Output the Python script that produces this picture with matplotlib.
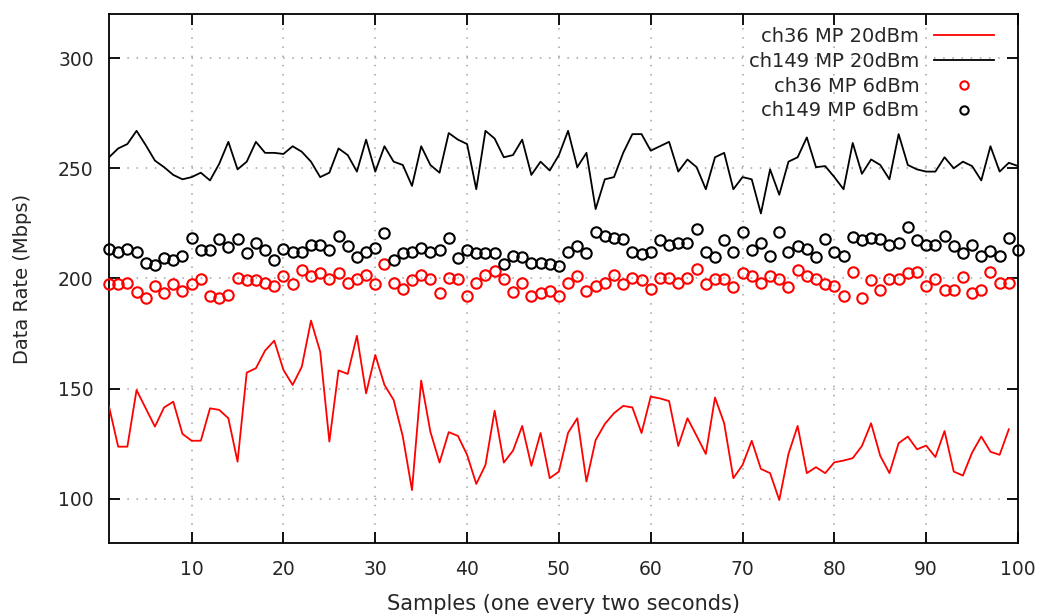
import matplotlib
matplotlib.use("Agg")
import matplotlib.pyplot as plt
import numpy as np

# ---- data ----
ch149_20 = [255, 259, 261, 267, 260.5, 253.5, 250.5, 247, 245, 246,
            248, 244.5, 252, 262, 249.5, 253, 262, 257, 257, 256.5,
            260, 257.5, 253, 246, 248, 259, 256, 248.5, 263, 248.5,
            260, 253, 251.5, 242, 260, 251.5, 248, 266, 263, 261,
            240.5, 267, 263.5, 255, 256, 263, 247, 253, 249, 256,
            267, 250.5, 257, 231.5, 245, 246, 257, 265.5, 265.5, 258,
            260, 262, 248.5, 254, 250.5, 240.5, 255, 257, 240.5, 246,
            245, 229.5, 249.5, 238, 253, 255, 264, 250.5, 251, 246,
            240.5, 261.5, 247.5, 254, 251.5, 245, 265.5, 251.5, 249.5, 248.5,
            248.5, 255, 250, 253, 251, 244.5, 260, 248.5, 252.5, 251]

ch36_20 = [141.9, 123.7, 123.7, 149.4, 141.1, 132.8, 141.5, 144.1, 129.5, 126.4,
           126.4, 141.1, 140.4, 136.6, 116.9, 157.3, 159.3, 167.3, 171.8, 158.5,
           151.7, 160, 180.9, 166.8, 126, 158.3, 156.7, 174, 147.9, 165.3,
           151.7, 144.9, 128.3, 104, 153.7, 130.5, 116.5, 130.3, 128.6, 120,
           106.8, 115.4, 140, 116.5, 121.9, 133.1, 115, 129.9, 109.4, 112.4,
           130, 136.6, 107.9, 126.7, 134, 138.9, 142.2, 141.5, 129.9, 146.4,
           145.6, 144.4, 124, 136.6, 128.6, 120.4, 146, 134.3, 109.4, 115.4,
           126.4, 113.6, 111.7, 99.5, 120.4, 133.1, 111.7, 114.4, 111.7, 116.6,
           117.4, 118.5, 124, 134.3, 119.5, 111.7, 125.3, 128.3, 122.5, 124.2,
           119, 130.8, 112.4, 110.6, 121, 128.3, 121.4, 120, 131.6]

ch36_6 = [197.5, 197.5, 198.1, 194, 191.3, 196.6, 193.6, 197.5, 194.3, 197.5,
          199.6, 192.1, 191.3, 192.4, 200.1, 199.3, 199.3, 197.8, 196.6, 201.3,
          197.5, 203.9, 201.3, 202.4, 199.6, 202.5, 197.8, 199.6, 201.6, 197.5,
          206.6, 198.1, 195.1, 199.3, 201.6, 199.6, 193.6, 200.1, 199.6, 192.1,
          197.8, 201.6, 203.6, 199.6, 194, 198.1, 192.1, 193.6, 194.5, 192.1,
          198.1, 201.1, 194.5, 196.6, 198.1, 201.6, 197.5, 200.1, 199.3, 195.1,
          200.1, 200.1, 198.1, 200.1, 204.2, 197.5, 199.6, 199.6, 196.3, 202.6,
          201.1, 198.1, 201.1, 199.6, 196.3, 203.9, 201.1, 199.6, 197.5, 196.6,
          192.1, 203.1, 191, 199.3, 194.8, 199.6, 199.6, 202.4, 203.1, 196.6,
          199.6, 194.8, 194.8, 200.5, 193.6, 194.8, 203.1, 198.1, 198.1]

ch149_6 = [213.2, 212.2, 213.2, 212.2, 206.9, 206.1, 209.2, 208.4, 210.2, 218.5,
           212.9, 212.9, 217.8, 214.4, 217.8, 211.4, 216, 212.9, 208.4, 213.2,
           212.2, 212.2, 215.2, 215.2, 212.9, 219.2, 214.7, 209.9, 212.2, 213.7,
           220.5, 208.4, 211.4, 212.2, 213.7, 212.2, 212.9, 218.5, 209.2, 212.9,
           211.4, 211.4, 211.4, 206.6, 210.2, 209.9, 206.9, 207.2, 206.6, 205.7,
           212.2, 214.7, 211.4, 221.2, 219.3, 218.5, 217.8, 212.2, 211.1, 212.2,
           217.5, 215.2, 216, 216, 222.3, 212.2, 209.9, 217.5, 212.2, 221.2,
           212.9, 216, 210.2, 221.2, 212.2, 214.7, 213.2, 209.6, 217.8, 212.2,
           210.4, 219, 217.5, 218.5, 217.8, 215.2, 216, 223.5, 217.5, 215.2,
           215.2, 219.3, 214.7, 211.4, 215.2, 210.2, 212.6, 210.2, 218.5, 212.9]

labels = ["ch36 MP 20dBm", "ch149 MP 20dBm", "ch36 MP 6dBm", "ch149 MP 6dBm"]
xticks = list(range(10, 101, 10))
yticks = [100, 150, 200, 250, 300]

# ---- figure ----
plt.rcParams['font.family'] = ['DejaVu Sans']
W, H = 1043, 616
fig = plt.figure(figsize=(W / 100, H / 100), dpi=100)
ax = fig.add_axes([109 / W, 1 - 543 / H, (1018 - 109) / W, (543 - 14) / H])

x20r = np.arange(1, len(ch36_20) + 1)
x20b = np.arange(1, len(ch149_20) + 1)
x6r = np.arange(1, len(ch36_6) + 1)
x6b = np.arange(1, len(ch149_6) + 1)

red = '#ff0000'
txt = '#262626'
ax.plot(x20r, ch36_20, color=red, lw=1.3, label=labels[0], zorder=3)
ax.plot(x20b, ch149_20, color='black', lw=1.3, label=labels[1], zorder=3)
ax.plot(x6r, ch36_6, ls='none', marker='o', ms=7.5, mfc='none', mec=red, mew=1.5,
        label=labels[2], clip_on=False, zorder=4)
ax.plot(x6b, ch149_6, ls='none', marker='o', ms=7.5, mfc='none', mec='black', mew=1.5,
        label=labels[3], clip_on=False, zorder=4)

ax.set_xlim(1, 100)
ax.set_ylim(80, 320)
ax.set_xticks(xticks)
ax.set_yticks(yticks)
ax.grid(True, color='#a0a0a0', linestyle=(0, (1, 5)), linewidth=1.1)
ax.tick_params(direction='in', length=8, width=1.3, top=True, right=True,
               labelsize=13.5, colors='black', labelcolor=txt)
ax.tick_params(axis='x', pad=12)
ax.tick_params(axis='y', pad=11)
for s in ax.spines.values():
    s.set_linewidth(1.3)
    s.set_color('black')

ax.set_xlabel("Samples (one every two seconds)", fontsize=15, color=txt, labelpad=11)
ax.set_ylabel("Data Rate (Mbps)", fontsize=14, color=txt, labelpad=19)

leg = ax.legend(loc='upper right', bbox_to_anchor=(994 / W, 1 - 27 / H),
                bbox_transform=fig.transFigure, frameon=False,
                markerfirst=False, fontsize=14, handlelength=3.1,
                handletextpad=0.75, labelspacing=0.3, borderaxespad=0.0,
                borderpad=0.0, markerscale=0.8)
for t in leg.get_texts():
    t.set_color(txt)

fig.savefig("out.png", dpi=100)
